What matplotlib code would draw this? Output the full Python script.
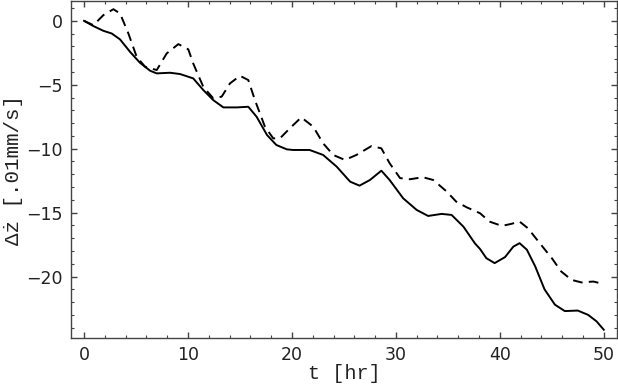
import numpy as np
import matplotlib
matplotlib.use("Agg")
import matplotlib.pyplot as plt
from matplotlib.ticker import MultipleLocator

# values
t_solid = [0.0, 0.9, 1.86, 2.66, 3.46, 4.42, 5.38, 6.35, 6.99, 8.27, 9.23, 10.2,
           10.5, 11.47, 12.43, 13.4, 14.7, 15.8, 16.6, 17.6, 18.5, 19.5, 20.1,
           21.7, 23.0, 24.3, 25.6, 26.5, 27.5, 28.6, 29.4, 30.7, 32.0, 33.1,
           34.4, 35.36, 36.5, 37.6, 38.1, 38.7, 39.5, 40.5, 41.3, 41.9, 42.6,
           43.4, 44.3, 45.3, 46.25, 47.5, 48.5, 49.3, 50.0]
dz_solid = [0.0, -0.41, -0.78, -0.99, -1.45, -2.42, -3.28, -3.9, -4.11, -4.06, -4.16, -4.42,
            -4.5, -5.41, -6.2, -6.77, -6.77, -6.72, -7.5, -8.93, -9.71, -10.05, -10.1,
            -10.1, -10.49, -11.4, -12.58, -12.89, -12.45, -11.72, -12.45, -13.88, -14.79, -15.26,
            -15.1, -15.18, -16.1, -17.4, -17.85, -18.56, -18.95, -18.48, -17.66, -17.39, -17.9,
            -19.2, -21.0, -22.2, -22.7, -22.66, -23.0, -23.5, -24.16]

t_dashed = [0.0, 0.9, 1.86, 2.82, 3.46, 4.26, 5.06, 5.87, 6.99, 7.95, 9.07, 10.03,
            10.5, 11.47, 12.43, 13.24, 14.04, 15.0, 15.8, 16.44, 17.4, 18.2, 18.85,
            19.8, 20.9, 22.05, 23.0, 23.97, 25.1, 26.2, 27.66, 28.6, 29.4, 30.4,
            31.35, 32.6, 33.6, 34.9, 35.8, 36.8, 38.1, 39.0, 40.2, 41.1, 41.9,
            42.7, 43.85, 45.0, 45.9, 46.9, 47.85, 49.0, 49.9]
dz_dashed = [0.0, -0.34, 0.45, 0.91, 0.58, -0.98, -2.81, -3.59, -3.85, -2.55, -1.82, -2.23,
             -3.33, -5.16, -6.06, -5.93, -4.89, -4.3, -4.63, -6.2, -8.28, -9.19, -9.19,
             -8.4, -7.55, -8.28, -9.58, -10.49, -10.88, -10.49, -9.79, -9.97, -11.14, -12.3,
             -12.39, -12.23, -12.45, -13.36, -14.14, -14.58, -15.05, -15.7, -16.04, -15.88, -15.7,
             -16.22, -17.4, -18.56, -19.6, -20.26, -20.46, -20.39, -20.57]

x_ticks = [0, 10, 20, 30, 40, 50]
y_ticks = [0, -5, -10, -15, -20]

fig = plt.figure(figsize=(6.18, 3.84), dpi=100)
ax = fig.add_axes([0.115, 0.12, 0.883, 0.877])

ax.plot(t_solid, dz_solid, color="black", lw=1.4, solid_joinstyle="round")
ax.plot(t_dashed, dz_dashed, color="black", lw=1.4, dashes=(5, 3.2))

ax.set_xlim(-1.25, 51.25)
ax.set_ylim(-24.8, 1.54)
ax.set_xticks(x_ticks)
ax.set_yticks(y_ticks)
ax.set_yticklabels(["\u2212" + str(-v) if v < 0 else str(v) for v in y_ticks])
ax.xaxis.set_minor_locator(MultipleLocator(2))
ax.yaxis.set_minor_locator(MultipleLocator(1))

frame_col = "#444444"
for s in ax.spines.values():
    s.set_color(frame_col)
    s.set_linewidth(1.0)
ax.tick_params(which="both", direction="in", top=True, right=True, color=frame_col)
ax.tick_params(which="major", length=4, width=1.0, labelsize=12.5, pad=6)
ax.tick_params(which="minor", length=2, width=0.8)
for lab in ax.get_xticklabels() + ax.get_yticklabels():
    lab.set_family("DejaVu Sans")
    lab.set_color("#222222")

ax.set_xlabel("t [hr]", family="Liberation Mono", fontsize=14.5, color="#222222")
ax.set_ylabel("\u0394\u017c [.01mm/s]", family="Liberation Mono", fontsize=15,
              color="#222222")
ax.xaxis.set_label_coords(0.5, -0.078)
ax.yaxis.set_label_coords(-0.088, 0.5)

fig.savefig("out.png", dpi=100)
